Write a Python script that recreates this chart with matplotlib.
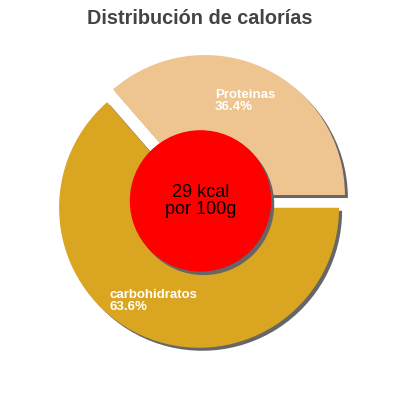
import matplotlib
matplotlib.use("Agg")
import matplotlib.pyplot as plt
from matplotlib.patches import Circle

plt.rcParams['font.family'] = ['Liberation Sans', 'DejaVu Sans']

title = "Distribución de calorías"
categories = ["Proteinas", "carbohidratos"]
values = [36.4, 63.6]
colors = ["#EEC591", "#DAA520"]
center_text = "29 kcal\npor 100g"

fig = plt.figure(figsize=(4, 4), dpi=100)
ax = fig.add_axes([0, 0, 1, 1])

cx, cy, R = 202, 198.6, 140
explode = [7, 7]

# shadow
ax.pie(values, colors=["#666666"] * 2, startangle=0, counterclock=True,
       explode=explode, radius=R, center=(cx + 3, cy - 3), frame=True,
       wedgeprops=dict(linewidth=0))
ax.pie(values, colors=colors, startangle=0, counterclock=True,
       explode=explode, radius=R, center=(cx, cy), frame=True,
       wedgeprops=dict(linewidth=0))
ax.set_xlim(0, 400)
ax.set_ylim(0, 400)
ax.axis('off')

ax.add_patch(Circle((cx + 1.5, cy - 3), 70, color="#666666", zorder=5))
ax.add_patch(Circle((cx - 1.5, cy + 0.5), 70, color="#FF0000", zorder=6))
ax.text(cx - 1.5, cy + 0.5, center_text, ha='center', va='center', fontsize=13,
        color='black', zorder=7, linespacing=1.0)

label_pos = [(215, 400 - 101), (109, 400 - 301)]
for (x, y), name, v in zip(label_pos, categories, values):
    ax.text(x, y, f"{name}\n{v:.1f}%", ha='left', va='center', fontsize=9.5,
            color='white', fontweight='bold', linespacing=0.95, zorder=8)

fig.text(0.5, 1 - 18 / 400, title, ha='center', va='center', fontsize=14.3,
         fontweight='bold', color='#444444')

fig.savefig("out.png", dpi=100)
